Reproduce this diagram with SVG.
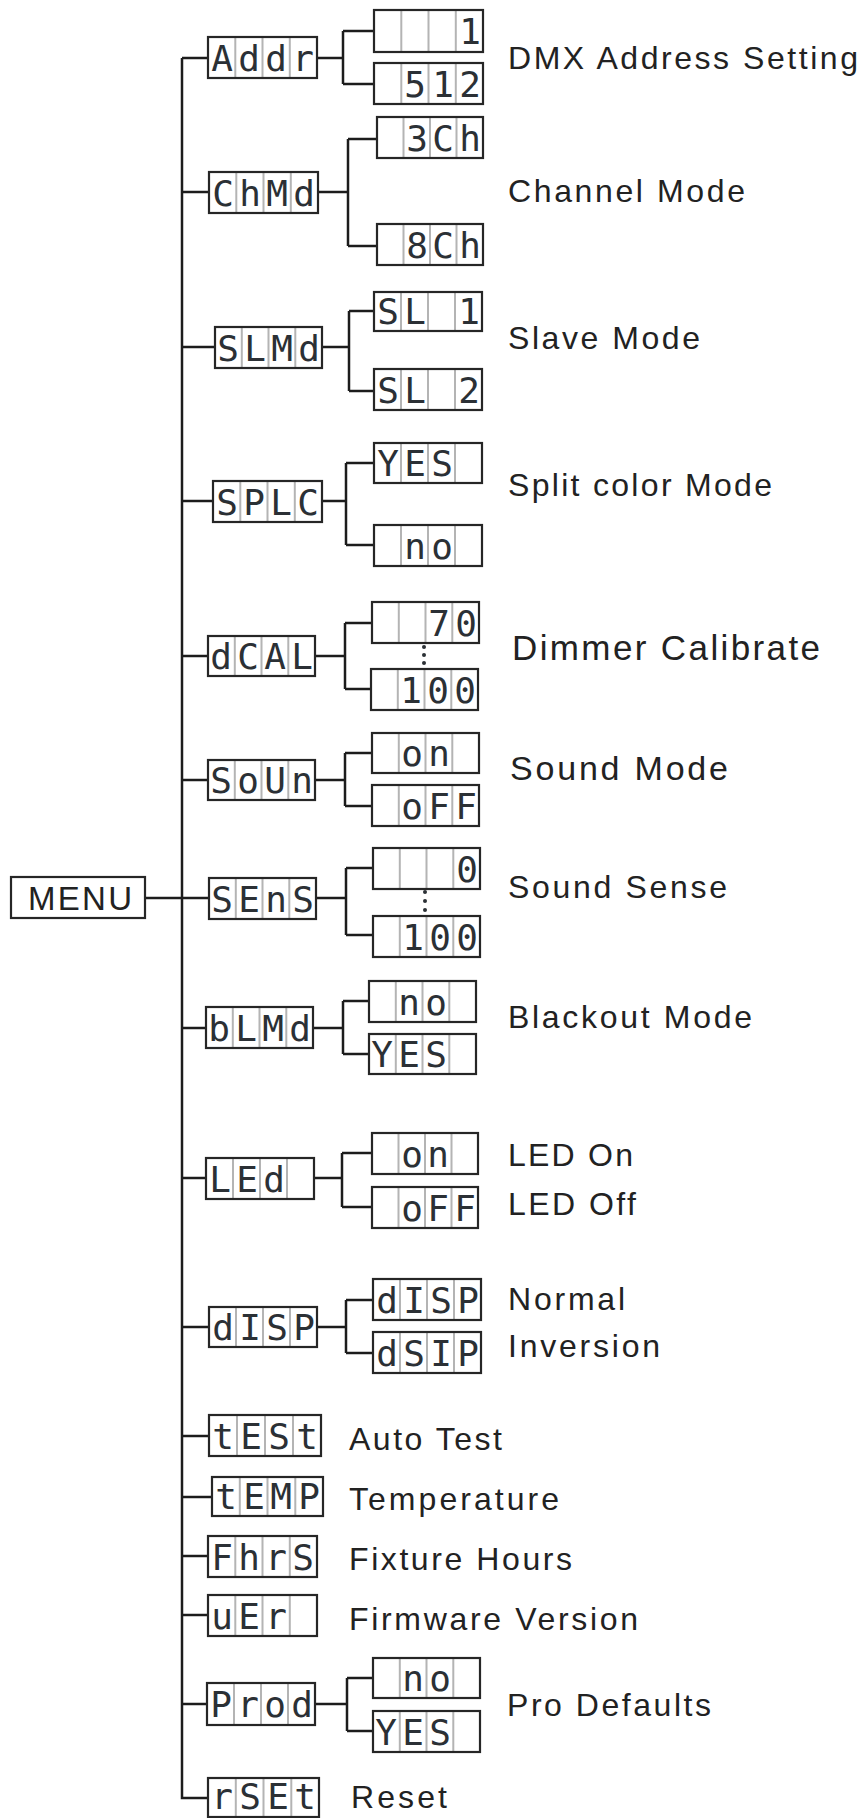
<svg xmlns="http://www.w3.org/2000/svg" width="864" height="1818" viewBox="0 0 864 1818">
<style>
.bg{fill:#fff}
.box{fill:none;stroke:#262626;stroke-width:2.2}
.dv{fill:none;stroke:#b4b4b4;stroke-width:2}
.seg{font-family:"DejaVu Sans Mono","Liberation Mono",monospace;font-size:36px;fill:#2b3035;text-anchor:middle}
.lbl{font-family:"Liberation Sans",Arial,sans-serif;font-size:32px;fill:#222}
.con{fill:none;stroke:#1c1c1c;stroke-width:2.5}
.dot{fill:#2b3035}
</style>
<rect class="bg" x="0" y="0" width="864" height="1818"/>
<g id="connectors">
<path class="con" d="M182 58V1798H208"/>
<path class="con" d="M145 898H209"/>
<path class="con" d="M182 58H208M317 58H343M343 31V84M343 31H374M343 84H374"/>
<path class="con" d="M182 192H209M318 192H348M348 139V246M348 139H377M348 246H377"/>
<path class="con" d="M182 347H215M322 347H349M349 311V391M349 311H374M349 391H374"/>
<path class="con" d="M182 501H213M322 501H346M346 463V545M346 463H374M346 545H374"/>
<path class="con" d="M182 656H208M315 656H345M345 623V689M345 623H372M345 689H371"/>
<path class="con" d="M182 780H208M315 780H345M345 753V806M345 753H372M345 806H372"/>
<path class="con" d="M316 898H346M346 868V935M346 868H373M346 935H373"/>
<path class="con" d="M182 1028H206M313 1028H343M343 1001V1054M343 1001H369M343 1054H369"/>
<path class="con" d="M182 1178H206M314 1178H342M342 1153V1207M342 1153H372M342 1207H372"/>
<path class="con" d="M182 1327H209M317 1327H346M346 1300V1353M346 1300H373M346 1353H373"/>
<path class="con" d="M182 1436H209"/>
<path class="con" d="M182 1497H212"/>
<path class="con" d="M182 1556H208"/>
<path class="con" d="M182 1615H208"/>
<path class="con" d="M182 1704H207M315 1704H347M347 1678V1731M347 1678H373M347 1731H373"/>
</g>
<g id="menu">
<rect class="box" x="11" y="877" width="134" height="41"/>
<text class="lbl" x="28" y="910" style="font-size:33px" textLength="104" lengthAdjust="spacing">MENU</text>
</g>
<g id="addr">
<path class="dv" d="M235.3 37v41M262.5 37v41M289.8 37v41"/><rect class="box" x="208" y="37" width="109" height="41"/>
<text class="seg" x="222 249 276 303" y="71">Addr</text>
</g>
<g id="addr-1">
<path class="dv" d="M401.3 10v42M428.5 10v42M455.8 10v42"/><rect class="box" x="374" y="10" width="109" height="42"/>
<text class="seg" x="470" y="44">1</text>
</g>
<g id="addr-512">
<path class="dv" d="M401.3 63v41M428.5 63v41M455.8 63v41"/><rect class="box" x="374" y="63" width="109" height="41"/>
<text class="seg" x="415 443 470" y="97">512</text>
</g>
<g id="chmd">
<path class="dv" d="M236.3 172v41M263.5 172v41M290.8 172v41"/><rect class="box" x="209" y="172" width="109" height="41"/>
<text class="seg" x="223 250 277 304" y="206">ChMd</text>
</g>
<g id="ch3">
<path class="dv" d="M403.5 117v41M430 117v41M456.5 117v41"/><rect class="box" x="377" y="117" width="106" height="41"/>
<text class="seg" x="417 443 470" y="151">3Ch</text>
</g>
<g id="ch8">
<path class="dv" d="M403.5 224v41M430 224v41M456.5 224v41"/><rect class="box" x="377" y="224" width="106" height="41"/>
<text class="seg" x="417 443 470" y="258">8Ch</text>
</g>
<g id="slmd">
<path class="dv" d="M241.8 327v41M268.5 327v41M295.3 327v41"/><rect class="box" x="215" y="327" width="107" height="41"/>
<text class="seg" x="228 255 282 309" y="361">SLMd</text>
</g>
<g id="sl1">
<path class="dv" d="M401 292v39M428 292v39M455 292v39"/><rect class="box" x="374" y="292" width="108" height="39"/>
<text class="seg" x="388 415 469" y="324">SL1</text>
</g>
<g id="sl2">
<path class="dv" d="M401 369v41M428 369v41M455 369v41"/><rect class="box" x="374" y="369" width="108" height="41"/>
<text class="seg" x="388 415 469" y="403">SL2</text>
</g>
<g id="splc">
<path class="dv" d="M240.3 481v41M267.5 481v41M294.8 481v41"/><rect class="box" x="213" y="481" width="109" height="41"/>
<text class="seg" x="227 254 281 308" y="515">SPLC</text>
</g>
<g id="splc-yes">
<path class="dv" d="M401 443v40M428 443v40M455 443v40"/><rect class="box" x="374" y="443" width="108" height="40"/>
<text class="seg" x="388 415 442" y="476">YES</text>
</g>
<g id="splc-no">
<path class="dv" d="M401 525v41M428 525v41M455 525v41"/><rect class="box" x="374" y="525" width="108" height="41"/>
<text class="seg" x="415 442" y="559">no</text>
</g>
<g id="dcal">
<path class="dv" d="M234.8 636v40M261.5 636v40M288.3 636v40"/><rect class="box" x="208" y="636" width="107" height="40"/>
<text class="seg" x="221 248 275 302" y="669">dCAL</text>
</g>
<g id="dcal-70">
<path class="dv" d="M398.8 602v41M425.5 602v41M452.3 602v41"/><rect class="box" x="372" y="602" width="107" height="41"/>
<text class="seg" x="439 466" y="636">70</text>
</g>
<g id="dcal-100">
<path class="dv" d="M397.8 669v41M424.5 669v41M451.3 669v41"/><rect class="box" x="371" y="669" width="107" height="41"/>
<text class="seg" x="411 438 465" y="703">100</text>
<circle class="dot" cx="424" cy="647" r="2"/><circle class="dot" cx="424" cy="655" r="2"/><circle class="dot" cx="424" cy="663" r="2"/>
</g>
<g id="soun">
<path class="dv" d="M234.8 760v40M261.5 760v40M288.3 760v40"/><rect class="box" x="208" y="760" width="107" height="40"/>
<text class="seg" x="221 248 275 302" y="793">SoUn</text>
</g>
<g id="soun-on">
<path class="dv" d="M398.8 733v40M425.5 733v40M452.3 733v40"/><rect class="box" x="372" y="733" width="107" height="40"/>
<text class="seg" x="412 439" y="766">on</text>
</g>
<g id="soun-off">
<path class="dv" d="M398.8 785v41M425.5 785v41M452.3 785v41"/><rect class="box" x="372" y="785" width="107" height="41"/>
<text class="seg" x="412 439 466" y="819">oFF</text>
</g>
<g id="sens">
<path class="dv" d="M235.8 878v41M262.5 878v41M289.3 878v41"/><rect class="box" x="209" y="878" width="107" height="41"/>
<text class="seg" x="222 249 276 303" y="912">SEnS</text>
</g>
<g id="sens-0">
<path class="dv" d="M399.8 848v41M426.5 848v41M453.3 848v41"/><rect class="box" x="373" y="848" width="107" height="41"/>
<text class="seg" x="467" y="882">0</text>
</g>
<g id="sens-100">
<path class="dv" d="M399.8 916v41M426.5 916v41M453.3 916v41"/><rect class="box" x="373" y="916" width="107" height="41"/>
<text class="seg" x="413 440 467" y="950">100</text>
<circle class="dot" cx="425" cy="892" r="2"/><circle class="dot" cx="425" cy="901" r="2"/><circle class="dot" cx="425" cy="910" r="2"/>
</g>
<g id="blmd">
<path class="dv" d="M232.8 1007v41M259.5 1007v41M286.3 1007v41"/><rect class="box" x="206" y="1007" width="107" height="41"/>
<text class="seg" x="219 246 273 300" y="1041">bLMd</text>
</g>
<g id="blmd-no">
<path class="dv" d="M395.8 981v41M422.5 981v41M449.3 981v41"/><rect class="box" x="369" y="981" width="107" height="41"/>
<text class="seg" x="409 436" y="1015">no</text>
</g>
<g id="blmd-yes">
<path class="dv" d="M395.8 1034v40M422.5 1034v40M449.3 1034v40"/><rect class="box" x="369" y="1034" width="107" height="40"/>
<text class="seg" x="382 409 436" y="1067">YES</text>
</g>
<g id="led">
<path class="dv" d="M233 1158v41M260 1158v41M287 1158v41"/><rect class="box" x="206" y="1158" width="108" height="41"/>
<text class="seg" x="220 247 274" y="1192">LEd</text>
</g>
<g id="led-on">
<path class="dv" d="M398.5 1133v41M425 1133v41M451.5 1133v41"/><rect class="box" x="372" y="1133" width="106" height="41"/>
<text class="seg" x="412 438" y="1167">on</text>
</g>
<g id="led-off">
<path class="dv" d="M398.5 1187v41M425 1187v41M451.5 1187v41"/><rect class="box" x="372" y="1187" width="106" height="41"/>
<text class="seg" x="412 438 465" y="1221">oFF</text>
</g>
<g id="disp">
<path class="dv" d="M236 1307v40M263 1307v40M290 1307v40"/><rect class="box" x="209" y="1307" width="108" height="40"/>
<text class="seg" x="223 250 277 304" y="1340">dISP</text>
</g>
<g id="disp-normal">
<path class="dv" d="M400 1279v41M427 1279v41M454 1279v41"/><rect class="box" x="373" y="1279" width="108" height="41"/>
<text class="seg" x="387 414 441 468" y="1313">dISP</text>
</g>
<g id="disp-inv">
<path class="dv" d="M400 1332v41M427 1332v41M454 1332v41"/><rect class="box" x="373" y="1332" width="108" height="41"/>
<text class="seg" x="387 414 441 468" y="1366">dSIP</text>
</g>
<g id="test">
<path class="dv" d="M237 1415v41M265 1415v41M293 1415v41"/><rect class="box" x="209" y="1415" width="112" height="41"/>
<text class="seg" x="223 251 279 307" y="1449">tESt</text>
</g>
<g id="temp">
<path class="dv" d="M239.8 1477v39M267.5 1477v39M295.3 1477v39"/><rect class="box" x="212" y="1477" width="111" height="39"/>
<text class="seg" x="226 254 281 309" y="1509">tEMP</text>
</g>
<g id="fhrs">
<path class="dv" d="M235.3 1536v41M262.5 1536v41M289.8 1536v41"/><rect class="box" x="208" y="1536" width="109" height="41"/>
<text class="seg" x="222 249 276 303" y="1570">FhrS</text>
</g>
<g id="ver">
<path class="dv" d="M235.3 1595v41M262.5 1595v41M289.8 1595v41"/><rect class="box" x="208" y="1595" width="109" height="41"/>
<text class="seg" x="222 249 276" y="1629">uEr</text>
</g>
<g id="prod">
<path class="dv" d="M234 1683v42M261 1683v42M288 1683v42"/><rect class="box" x="207" y="1683" width="108" height="42"/>
<text class="seg" x="221 248 275 302" y="1717">Prod</text>
</g>
<g id="prod-no">
<path class="dv" d="M399.8 1658v40M426.5 1658v40M453.3 1658v40"/><rect class="box" x="373" y="1658" width="107" height="40"/>
<text class="seg" x="413 440" y="1691">no</text>
</g>
<g id="prod-yes">
<path class="dv" d="M399.8 1711v41M426.5 1711v41M453.3 1711v41"/><rect class="box" x="373" y="1711" width="107" height="41"/>
<text class="seg" x="386 413 440" y="1745">YES</text>
</g>
<g id="rset">
<path class="dv" d="M235.8 1778v39M263.5 1778v39M291.3 1778v39"/><rect class="box" x="208" y="1778" width="111" height="39"/>
<text class="seg" x="222 250 278 305" y="1809">rSEt</text>
</g>
<g id="labels">
<text class="lbl" x="508" y="69" textLength="350" lengthAdjust="spacing">DMX Address Setting</text>
<text class="lbl" x="508" y="202" textLength="237" lengthAdjust="spacing">Channel Mode</text>
<text class="lbl" x="508" y="349" textLength="192" lengthAdjust="spacing">Slave Mode</text>
<text class="lbl" x="508" y="496" textLength="264" lengthAdjust="spacing">Split color Mode</text>
<text class="lbl" x="512" y="660" style="font-size:35px" textLength="308" lengthAdjust="spacing">Dimmer Calibrate</text>
<text class="lbl" x="510" y="780" style="font-size:34px" textLength="218" lengthAdjust="spacing">Sound Mode</text>
<text class="lbl" x="508" y="898" textLength="219" lengthAdjust="spacing">Sound Sense</text>
<text class="lbl" x="508" y="1028" textLength="244" lengthAdjust="spacing">Blackout Mode</text>
<text class="lbl" x="508" y="1166" textLength="125" lengthAdjust="spacing">LED On</text>
<text class="lbl" x="508" y="1215" textLength="128" lengthAdjust="spacing">LED Off</text>
<text class="lbl" x="508" y="1310" textLength="117" lengthAdjust="spacing">Normal</text>
<text class="lbl" x="508" y="1357" textLength="152" lengthAdjust="spacing">Inversion</text>
<text class="lbl" x="349" y="1450" textLength="153" lengthAdjust="spacing">Auto Test</text>
<text class="lbl" x="349" y="1510" textLength="210" lengthAdjust="spacing">Temperature</text>
<text class="lbl" x="349" y="1570" textLength="223" lengthAdjust="spacing">Fixture Hours</text>
<text class="lbl" x="349" y="1630" textLength="289" lengthAdjust="spacing">Firmware Version</text>
<text class="lbl" x="507" y="1716" textLength="204" lengthAdjust="spacing">Pro Defaults</text>
<text class="lbl" x="351" y="1808" textLength="96" lengthAdjust="spacing">Reset</text>
</g>
</svg>
